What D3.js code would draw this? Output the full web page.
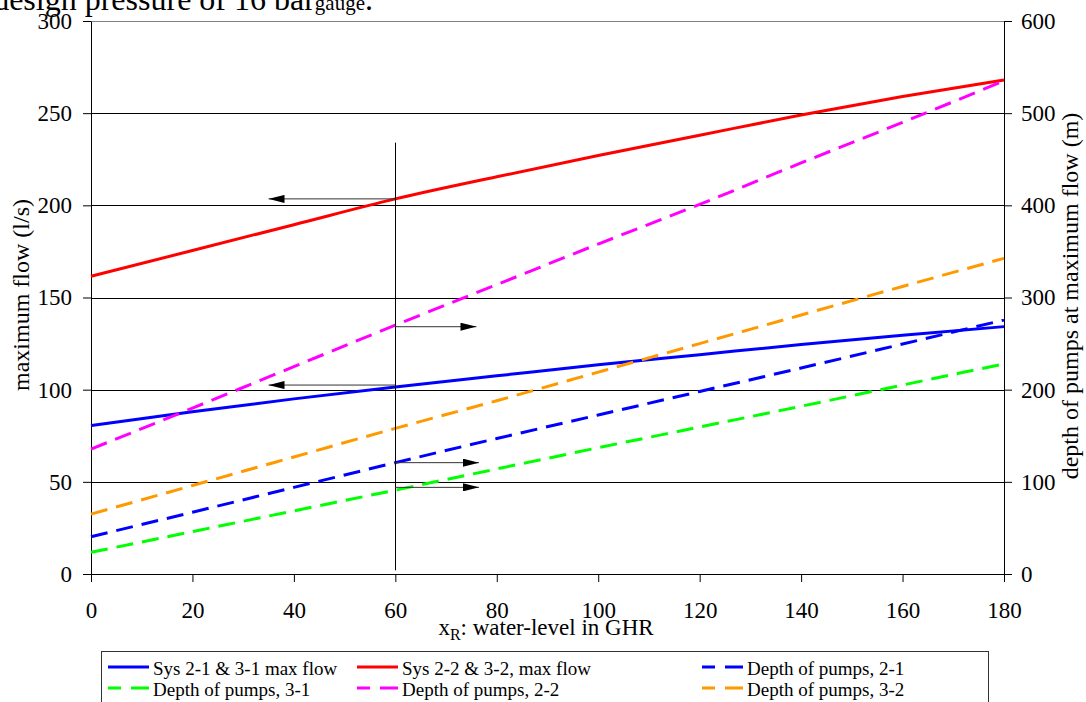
<!DOCTYPE html>
<html>
<head>
<meta charset="utf-8">
<script src="https://cdn.jsdelivr.net/npm/d3@7"></script>
<style>
    body { margin: 0; background: #fff; }
    svg text { font-family: "Liberation Serif", "Times New Roman", serif; }
</style>
</head>
<body>
<script>
// water level in GHR (x axis)
const xValues = [0, 20, 40, 60, 80, 100, 120, 140, 160, 180];
// maximum flow, l/s (left axis)
const sys1MaxFlow = [80.5, 88, 95, 101.5, 107.5, 113.5, 119, 124.5, 129.5, 134.2];
const sys2MaxFlow = [161.5, 175.5, 189.5, 203.5, 215.5, 227, 238, 249, 259, 268];
// depth of pumps, m (right axis)
const depth21 = [40.5, 67, 94, 120.8, 147, 172.5, 198, 223.5, 249.5, 275.6];
const depth31 = [23.5, 46, 68.5, 91, 114, 137, 159.5, 182, 205, 228];
const depth22 = [135.5, 180, 225, 270, 314, 358, 401, 446, 490, 535];
const depth32 = [65, 96, 127, 158, 188, 219, 250, 281, 312, 342.5];

const xTicks = [0, 20, 40, 60, 80, 100, 120, 140, 160, 180];
const leftTicks = [0, 50, 100, 150, 200, 250, 300];
const rightTicks = [0, 100, 200, 300, 400, 500, 600];

const legendLabels = [
    "Sys 2-1 & 3-1 max flow", "Sys 2-2 & 3-2, max flow", "Depth of pumps, 2-1",
    "Depth of pumps, 3-1", "Depth of pumps, 2-2", "Depth of pumps, 3-2"
];

// reading line at x = 60 and the arrows pointing to the axis used
const markerX = 60;
const markerSpan = [2, 234];
const arrows = [
    { y: 203.5, to: 35, axis: "left" },
    { y: 102.5, to: 35, axis: "left" },
    { y: 268.3, to: 76, axis: "right" },
    { y: 120.8, to: 76.5, axis: "right" },
    { y: 94, to: 76.5, axis: "right" }
];

const W = 1086, H = 702;
const plot = { left: 91, right: 1004, top: 21, bottom: 574 };
const serif = "Liberation Serif, Times New Roman, serif";

const series = [
    { values: sys1MaxFlow, axis: "left", color: "#0000ff", dashed: false },
    { values: sys2MaxFlow, axis: "left", color: "#ff0000", dashed: false },
    { values: depth21, axis: "right", color: "#0000ff", dashed: true },
    { values: depth31, axis: "right", color: "#00ff00", dashed: true },
    { values: depth22, axis: "right", color: "#ff00ff", dashed: true },
    { values: depth32, axis: "right", color: "#ff9900", dashed: true }
];
series.forEach((s, i) => s.label = legendLabels[i]);

function buildChart() {
    const svg = d3.select("body").append("svg")
        .attr("width", W)
        .attr("height", H)
        .attr("font-family", serif);

    const x = d3.scaleLinear().domain([0, 180]).range([plot.left, plot.right]);
    const yLeft = d3.scaleLinear().domain([0, 300]).range([plot.bottom, plot.top]);
    const yRight = d3.scaleLinear().domain([0, 600]).range([plot.bottom, plot.top]);
    const yFor = (axis) => axis === "left" ? yLeft : yRight;

    // text cut off at the top of the page
    const head = svg.append("text")
        .attr("x", 373)
        .attr("y", 10)
        .attr("text-anchor", "end")
        .attr("font-family", serif)
        .style("font-size", "32px");
    head.append("tspan").text("design pressure of 16 bar");
    head.append("tspan").style("font-size", "21px").text("gauge");
    head.append("tspan").text(".");

    // gridlines
    svg.append("g")
        .selectAll("line")
        .data(leftTicks.filter(d => d > 0))
        .enter().append("line")
        .attr("x1", plot.left)
        .attr("x2", plot.right)
        .attr("y1", d => Math.round(yLeft(d)) + 0.5)
        .attr("y2", d => Math.round(yLeft(d)) + 0.5)
        .attr("stroke", d => d === 300 ? "#808080" : "#000")
        .attr("stroke-width", 1);

    // axes
    const xAxis = svg.append("g")
        .attr("transform", "translate(0," + plot.bottom + ")")
        .call(d3.axisBottom(x).tickValues(xTicks).tickSize(8).tickSizeOuter(0).tickPadding(20));
    const leftAxis = svg.append("g")
        .attr("transform", "translate(" + plot.left + ",0)")
        .call(d3.axisLeft(yLeft).tickValues(leftTicks).tickSize(8).tickSizeOuter(0).tickPadding(11));
    const rightAxis = svg.append("g")
        .attr("transform", "translate(" + plot.right + ",0)")
        .call(d3.axisRight(yRight).tickValues(rightTicks).tickSize(8).tickSizeOuter(0).tickPadding(9));

    [xAxis, leftAxis, rightAxis].forEach(g => {
        g.attr("font-family", serif).attr("font-size", 23);
        g.selectAll("text").attr("fill", "#000");
        g.selectAll("line, path").attr("stroke", "#000");
    });

    // axis titles
    const xTitle = svg.append("text")
        .attr("x", 546)
        .attr("y", 635)
        .attr("text-anchor", "middle")
        .attr("font-family", serif)
        .style("font-size", "23px");
    xTitle.append("tspan").text("x");
    xTitle.append("tspan").attr("dy", 5).style("font-size", "16px").text("R");
    xTitle.append("tspan").attr("dy", -5).text(": water-level in GHR");

    svg.append("text")
        .attr("transform", "translate(29,295) rotate(-90)")
        .attr("text-anchor", "middle")
        .attr("font-family", serif)
        .style("font-size", "24px")
        .text("maximum flow (l/s)");

    svg.append("text")
        .attr("transform", "translate(1078,296) rotate(-90)")
        .attr("text-anchor", "middle")
        .attr("font-family", serif)
        .style("font-size", "24px")
        .text("depth of pumps at maximum flow (m)");

    // series
    const lines = svg.append("g");
    series.forEach(s => {
        const y = yFor(s.axis);
        const line = d3.line()
            .x((d, i) => x(xValues[i]))
            .y(d => y(d))
            .curve(d3.curveMonotoneX);
        lines.append("path")
            .datum(s.values)
            .attr("d", line)
            .attr("fill", "none")
            .attr("stroke", s.color)
            .attr("stroke-width", 3)
            .attr("stroke-dasharray", s.dashed ? "17,9" : null);
    });

    // marker line and arrows
    svg.append("defs").append("marker")
        .attr("id", "head")
        .attr("markerUnits", "userSpaceOnUse")
        .attr("markerWidth", 16)
        .attr("markerHeight", 8)
        .attr("refX", 16)
        .attr("refY", 4)
        .attr("orient", "auto")
        .append("path")
        .attr("d", "M0,0 L16,4 L0,8 Z")
        .attr("fill", "#000");

    svg.append("line")
        .attr("x1", Math.round(x(markerX)) + 0.5)
        .attr("x2", Math.round(x(markerX)) + 0.5)
        .attr("y1", yLeft(markerSpan[0]))
        .attr("y2", yLeft(markerSpan[1]))
        .attr("stroke", "#000")
        .attr("stroke-width", 1);

    svg.append("g")
        .selectAll("line")
        .data(arrows)
        .enter().append("line")
        .attr("x1", x(markerX))
        .attr("x2", d => x(d.to))
        .attr("y1", d => yFor(d.axis)(d.y))
        .attr("y2", d => yFor(d.axis)(d.y))
        .attr("stroke", "#333")
        .attr("stroke-width", 1)
        .attr("marker-end", "url(#head)");

    // legend
    const legendX = [108, 357, 702];
    const legendY = [667, 688];
    const legend = svg.append("g");
    legend.append("rect")
        .attr("x", 101.5)
        .attr("y", 651.5)
        .attr("width", 887)
        .attr("height", 70)
        .attr("fill", "#fff")
        .attr("stroke", "#333")
        .attr("stroke-width", 1);

    const item = legend.selectAll(".legend-item")
        .data(series)
        .enter().append("g")
        .attr("class", "legend-item")
        .attr("transform", (d, i) => "translate(" + legendX[i % 3] + "," + legendY[Math.floor(i / 3)] + ")");

    item.append("line")
        .attr("x1", 0)
        .attr("x2", 41)
        .attr("stroke", d => d.color)
        .attr("stroke-width", 3)
        .attr("stroke-dasharray", d => d.dashed ? "13,10,18" : null);

    item.append("text")
        .attr("x", 45)
        .attr("y", 8)
        .attr("font-family", serif)
        .style("font-size", "19px")
        .text(d => d.label);
}

document.addEventListener("DOMContentLoaded", () => buildChart());
</script>
</body>
</html>
